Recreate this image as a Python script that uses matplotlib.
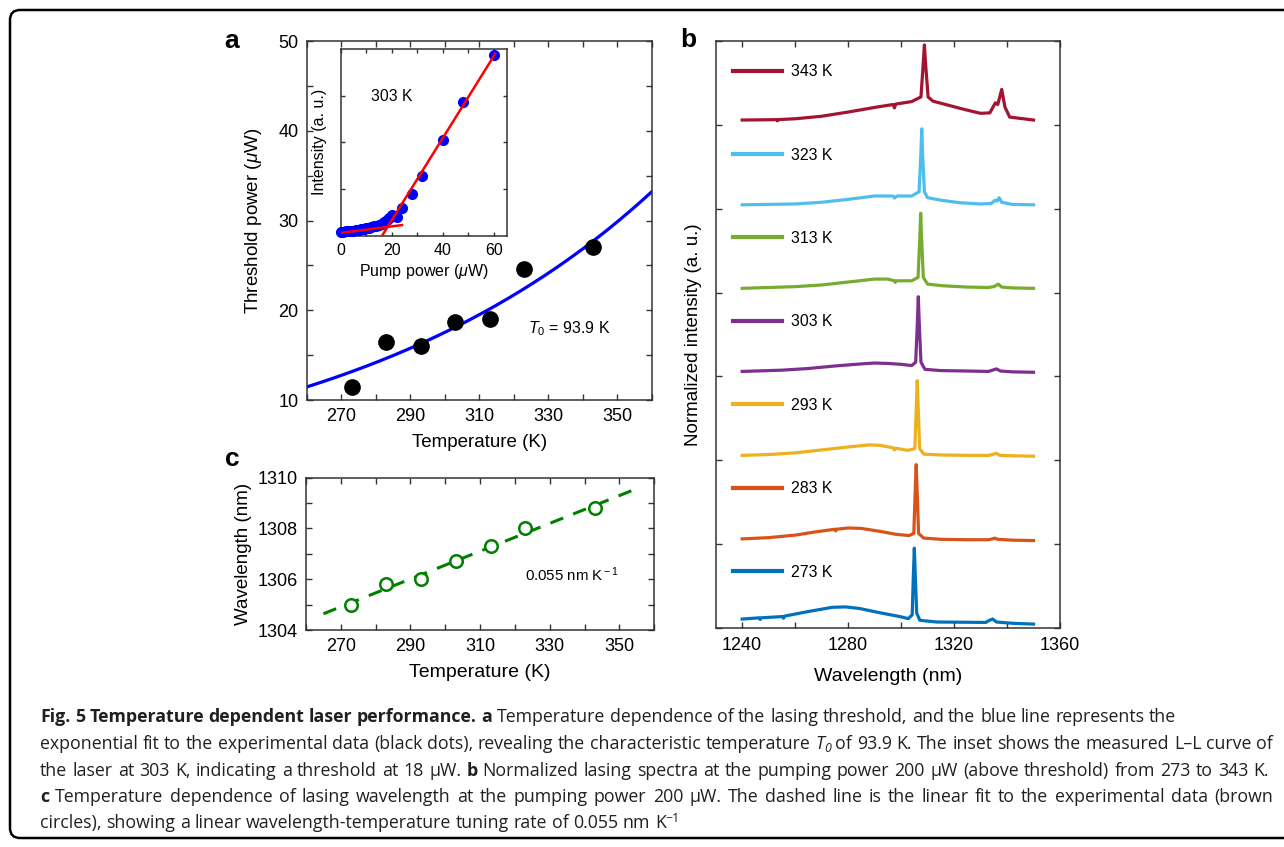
import matplotlib.pyplot as plt
import numpy as np
from matplotlib.patches import FancyBboxPatch
from matplotlib.ticker import MultipleLocator, NullFormatter
from matplotlib.transforms import IdentityTransform

plt.rcParams['font.family'] = ['Liberation Sans', 'DejaVu Sans']
plt.rcParams['mathtext.fontset'] = 'custom'
plt.rcParams['mathtext.rm'] = 'Liberation Sans'
plt.rcParams['mathtext.it'] = 'Liberation Sans:italic'

# ---- panel a: threshold vs temperature ----
temps = [273, 283, 293, 303, 313, 323, 343]
threshold = [11.4, 16.5, 16.0, 18.7, 19.0, 24.6, 27.0]
T0 = 93.9

# inset: L-L curve at 303 K
pump = [0, 1, 2, 3, 4, 5, 6, 7, 8, 9, 10, 11, 12, 13, 14, 15, 16, 17, 18, 19,
        20, 22, 24, 28, 32, 40, 48, 60]
intensity = [0.35, 0.4, 0.45, 0.5, 0.55, 0.55, 0.6, 0.65, 0.7, 0.75, 0.8, 0.85,
             0.95, 1.0, 1.05, 1.15, 1.3, 1.45, 1.65, 1.9, 2.25, 2.0, 3.0, 4.5,
             6.4, 10.3, 14.3, 19.4]
below_fit = [0.035, 0.3]      # slope, intercept
below_range = [0, 24]
above_fit = [0.44, -7.13]
above_range = [16, 60.5]

# ---- panel b: spectra ----
labels_b = ['273 K', '283 K', '293 K', '303 K', '313 K', '323 K', '343 K']
colors_b = ['#0072BD', '#D95319', '#EDB120', '#7E2F8E', '#77AC30', '#4DBEEE', '#A2142F']

wl_273 = [1240, 1246.5, 1246.8, 1247.2, 1255.3, 1255.6, 1256, 1265, 1274, 1279, 1284.5, 1292,
          1299.5, 1302.7, 1304.2, 1304.6, 1305.0, 1305.4, 1305.9, 1307.1, 1313.4, 1332,
          1333.3, 1334.6, 1336, 1342, 1350]
int_273 = [0.11, 0.125, 0.105, 0.125, 0.14, 0.12, 0.145, 0.2, 0.25, 0.255, 0.235, 0.185,
           0.14, 0.115, 0.16, 0.6, 0.955, 0.6, 0.18, 0.095, 0.075, 0.07,
           0.095, 0.11, 0.075, 0.06, 0.05]
wl_283 = [1240, 1250, 1260, 1268, 1275, 1275.3, 1275.6, 1280, 1285, 1292, 1298, 1303, 1304.8,
          1305.3, 1305.7, 1306.1, 1306.6, 1308.5, 1315, 1325, 1333, 1334.5, 1335.3, 1336.5,
          1342, 1350]
int_283 = [0.065, 0.08, 0.11, 0.15, 0.18, 0.16, 0.18, 0.195, 0.19, 0.155, 0.12, 0.105, 0.13,
           0.6, 0.95, 0.6, 0.13, 0.075, 0.06, 0.055, 0.055, 0.065, 0.075, 0.06,
           0.05, 0.045]
wl_293 = [1240, 1250, 1260, 1270, 1280, 1288, 1292, 1297, 1297.5, 1298, 1302.5, 1305.2,
          1305.7, 1306.1, 1306.5, 1307, 1308.6, 1315, 1325, 1333, 1334.5, 1335.9, 1337.3,
          1342, 1350]
int_293 = [0.06, 0.07, 0.09, 0.125, 0.16, 0.185, 0.18, 0.15, 0.125, 0.145, 0.12, 0.14,
           0.6, 0.95, 0.6, 0.14, 0.075, 0.065, 0.06, 0.06, 0.07, 0.085, 0.06,
           0.055, 0.05]
wl_303 = [1240, 1255, 1265, 1275, 1285, 1290, 1295, 1300, 1304, 1305.5, 1306.1, 1306.5,
          1306.9, 1307.5, 1309, 1315, 1325, 1333, 1334.5, 1336, 1337.5, 1342, 1350]
int_303 = [0.06, 0.075, 0.095, 0.125, 0.15, 0.16, 0.155, 0.145, 0.13, 0.17, 0.6, 0.95,
           0.6, 0.17, 0.085, 0.07, 0.065, 0.06, 0.075, 0.09, 0.065, 0.055, 0.05]
wl_313 = [1240, 1260, 1270, 1280, 1290, 1295, 1297.5, 1297.8, 1298.2, 1304, 1306.4, 1307,
          1307.4, 1307.8, 1308.4, 1310, 1316, 1325, 1333, 1335, 1336.7, 1338, 1342, 1350]
int_313 = [0.05, 0.07, 0.09, 0.125, 0.16, 0.16, 0.14, 0.12, 0.14, 0.14, 0.18, 0.6,
           0.945, 0.6, 0.18, 0.1, 0.08, 0.065, 0.06, 0.07, 0.1, 0.065, 0.055, 0.05]
wl_323 = [1240, 1260, 1270, 1280, 1290, 1297, 1297.5, 1298.5, 1304, 1306.8, 1307.4, 1307.8,
          1308.2, 1308.8, 1310, 1315, 1322, 1330, 1334, 1335.5, 1336.3, 1337, 1338, 1342, 1350]
int_323 = [0.045, 0.055, 0.075, 0.11, 0.15, 0.15, 0.125, 0.15, 0.15, 0.2, 0.6, 0.95,
           0.6, 0.2, 0.13, 0.1, 0.07, 0.055, 0.06, 0.1, 0.09, 0.13, 0.075, 0.05, 0.045]
wl_343 = [1240, 1250, 1253, 1253.3, 1253.6, 1260, 1270, 1280, 1290, 1297, 1297.5, 1298, 1304,
          1307.5, 1308.3, 1308.8, 1309.3, 1310.2, 1312, 1318, 1324, 1330, 1333.5, 1335.6,
          1336.5, 1338, 1339.2, 1341, 1350]
int_343 = [0.055, 0.058, 0.06, 0.045, 0.06, 0.07, 0.10, 0.15, 0.205, 0.24, 0.20, 0.245, 0.275,
           0.33, 0.7, 0.95, 0.7, 0.33, 0.28, 0.23, 0.18, 0.135, 0.14, 0.26,
           0.24, 0.42, 0.21, 0.09, 0.055]

spectra_wl = [wl_273, wl_283, wl_293, wl_303, wl_313, wl_323, wl_343]
spectra_int = [int_273, int_283, int_293, int_303, int_313, int_323, int_343]

# ---- panel c: lasing wavelength vs temperature ----
lasing_wl = [1305.0, 1305.8, 1306.0, 1306.7, 1307.3, 1308.0, 1308.8]
fit_range_c = [265, 354]

W, H = 1284, 847
fig = plt.figure(figsize=(W / 100, H / 100), dpi=100)
renderer = fig.canvas.get_renderer()

spine_c = '0.2'


def style_axes(ax):
    for s in ax.spines.values():
        s.set_color(spine_c)
        s.set_linewidth(1.1)
    ax.tick_params(which='both', direction='in', top=True, right=True,
                   length=4, width=1, color=spine_c, labelsize=13, pad=6)


# panel a
ax_a = fig.add_axes([306.7 / W, 1 - 400 / H, 345.3 / W, 359 / H])
tt = np.linspace(260, 360, 200)
p0 = np.exp(np.mean(np.log(threshold) - np.array(temps) / T0))
ax_a.plot(tt, p0 * np.exp(tt / T0), color='#0000FF', lw=2.3)
ax_a.plot(temps, threshold, 'o', color='black', ms=11)
ax_a.set_xlim(260, 360)
ax_a.set_ylim(10, 50)
ax_a.set_xticks([270, 290, 310, 330, 350])
ax_a.xaxis.set_minor_locator(MultipleLocator(10))
ax_a.yaxis.set_major_locator(MultipleLocator(10))
ax_a.yaxis.set_minor_locator(MultipleLocator(5))
style_axes(ax_a)
ax_a.set_xlabel('Temperature (K)', fontsize=13.5, labelpad=6)
ax_a.set_ylabel(r'Threshold power ($\mu$W)', fontsize=13.5, labelpad=10)
ax_a.text(324, 17.9, r'$T_{\mathit{0}}$ = 93.9 K', fontsize=11.5, va='center')

# inset
ax_in = fig.add_axes([340.7 / W, 1 - 235.7 / H, 166 / W, 186.7 / H], zorder=5)
ax_in.plot(pump, intensity, 'o', color='#0000FF', ms=7, clip_on=False, zorder=3)
xb = np.array(below_range)
ax_in.plot(xb, below_fit[0] * xb + below_fit[1], color='red', lw=1.8, zorder=4)
xa = np.array(above_range)
ax_in.plot(xa, above_fit[0] * xa + above_fit[1], color='red', lw=1.8, zorder=4)
ax_in.set_xlim(0, 65)
ax_in.set_ylim(0, 20)
ax_in.set_xticks([0, 20, 40, 60])
ax_in.xaxis.set_minor_locator(MultipleLocator(10))
ax_in.set_yticks([5, 10, 15])
ax_in.yaxis.set_major_formatter(NullFormatter())
style_axes(ax_in)
ax_in.tick_params(which='both', labelsize=11.5, pad=5, length=3)
ax_in.set_xlabel(r'Pump power ($\mu$W)', fontsize=11.5, labelpad=3)
ax_in.set_ylabel('Intensity (a. u.)', fontsize=11.5, labelpad=5)
ax_in.text(12, 14.9, '303 K', fontsize=11.3, va='center')

# panel b
ax_b = fig.add_axes([715.7 / W, 1 - 628.3 / H, 344.3 / W, 587.6 / H])
for i in range(len(labels_b)):
    ax_b.plot(spectra_wl[i], np.array(spectra_int[i]) + i, color=colors_b[i],
              lw=2.3, label=labels_b[i])
ax_b.set_xlim(1230, 1360)
ax_b.set_ylim(0, 7)
ax_b.set_xticks([1240, 1280, 1320, 1360])
ax_b.xaxis.set_minor_locator(MultipleLocator(20))
ax_b.yaxis.set_major_locator(MultipleLocator(1))
ax_b.yaxis.set_major_formatter(NullFormatter())
style_axes(ax_b)
ax_b.set_xlabel('Wavelength (nm)', fontsize=14, labelpad=10)
ax_b.set_ylabel('Normalized intensity (a. u.)', fontsize=13.5, labelpad=4)
handles, labs = ax_b.get_legend_handles_labels()
leg = ax_b.legend(handles[::-1], labs[::-1], loc='upper left', bbox_to_anchor=(0.05, 0.96),
                  frameon=False, fontsize=11.4, handlelength=3.1, handletextpad=0.6,
                  labelspacing=4.32, borderpad=0, borderaxespad=0)
for ln in leg.get_lines():
    ln.set_linewidth(3)

# panel c
ax_c = fig.add_axes([306 / W, 1 - 630 / H, 348.3 / W, 152.3 / H])
slope, icpt = np.polyfit(temps, lasing_wl, 1)
xf = np.array(fit_range_c)
ax_c.plot(xf, slope * xf + icpt, color='#007F00', lw=2.2, dashes=(4.5, 3.5))
ax_c.plot(temps, lasing_wl, 'o', mfc='white', mec='#007F00', mew=1.8, ms=9)
ax_c.set_xlim(260, 360)
ax_c.set_ylim(1304, 1310)
ax_c.set_xticks([270, 290, 310, 330, 350])
ax_c.xaxis.set_minor_locator(MultipleLocator(10))
ax_c.yaxis.set_major_locator(MultipleLocator(2))
ax_c.yaxis.set_minor_locator(MultipleLocator(1))
style_axes(ax_c)
ax_c.set_xlabel('Temperature (K)', fontsize=14, labelpad=6)
ax_c.set_ylabel('Wavelength (nm)', fontsize=13.5, labelpad=4)
ax_c.text(323, 1306.17, r'0.055 nm K$^{\rm -1}$', fontsize=10.8, va='center')

# panel letters
fig.text(232 / W, 1 - 41 / H, 'a', fontsize=19, fontweight='bold', ha='center', va='center')
fig.text(688 / W, 1 - 40 / H, 'b', fontsize=19, fontweight='bold', ha='center', va='center')
fig.text(232 / W, 1 - 459 / H, 'c', fontsize=19, fontweight='bold', ha='center', va='center')

# frame around figure + caption
frame = FancyBboxPatch((10, H - 838), 1400, 828, boxstyle='round,pad=0,rounding_size=10',
                       transform=IdentityTransform(), fill=False, lw=1.8, ec='black')
fig.add_artist(frame)

cap = 12.8
reg = dict(family='Open Sans', fontsize=cap, color='#231f20')
bold = dict(family='Open Sans', fontsize=cap, fontweight='bold', color='#231f20')
ital = dict(family='Open Sans', fontsize=cap, style='italic', color='#231f20')
small = dict(family='Open Sans', fontsize=cap * 0.7, style='italic', color='#231f20')
sup = dict(family='Open Sans', fontsize=cap * 0.7, color='#231f20')


def seg_width(txt, st):
    a = fig.text(0, 0, 'x' + txt + 'x', **st)
    b = fig.text(0, 0, 'xx', **st)
    w = a.get_window_extent(renderer).width - b.get_window_extent(renderer).width
    a.remove()
    b.remove()
    return w


def caption_line(y_base, segments, x0=40, right=None):
    # natural width, then spread extra space over the word gaps (justified lines)
    natural = 0
    n_gaps = 0
    for txt, st, dy in segments:
        pieces = txt.split(' ')
        natural += sum(seg_width(p, st) for p in pieces if p)
        natural += (len(pieces) - 1) * seg_width(' ', st)
        n_gaps += len(pieces) - 1
    extra = 0 if right is None else (right - x0 - natural) / n_gaps
    x = x0
    for txt, st, dy in segments:
        pieces = txt.split(' ')
        sp = seg_width(' ', st)
        for k, p in enumerate(pieces):
            if p:
                fig.text(x / W, (H - y_base + dy) / H, p, ha='left', va='baseline', **st)
                x += seg_width(p, st)
            if k < len(pieces) - 1:
                x += sp + extra


caption_line(722, [('Fig. 5 Temperature dependent laser performance. a', bold, 0),
                   (' Temperature dependence of the lasing threshold, and the blue line represents the', reg, 0)])
caption_line(749, [('exponential fit to the experimental data (black dots), revealing the characteristic temperature ', reg, 0),
                   ('T', ital, 0), ('0', small, -3),
                   (' of 93.9 K. The inset shows the measured L\u2013L curve of', reg, 0)], right=1273)
caption_line(776, [('the laser at 303 K, indicating a threshold at 18 \u00b5W. ', reg, 0), ('b', bold, 0),
                   (' Normalized lasing spectra at the pumping power 200 \u00b5W (above threshold) from 273 to 343 K.', reg, 0)],
             right=1269)
caption_line(802, [('c', bold, 0),
                   (' Temperature dependence of lasing wavelength at the pumping power 200 \u00b5W. The dashed line is the linear fit to the experimental data (brown', reg, 0)],
             right=1273)
caption_line(828, [('circles), showing a linear wavelength-temperature tuning rate of 0.055 nm K', reg, 0),
                   ('\u22121', sup, 6)])

fig.savefig('out.png', dpi=100)
